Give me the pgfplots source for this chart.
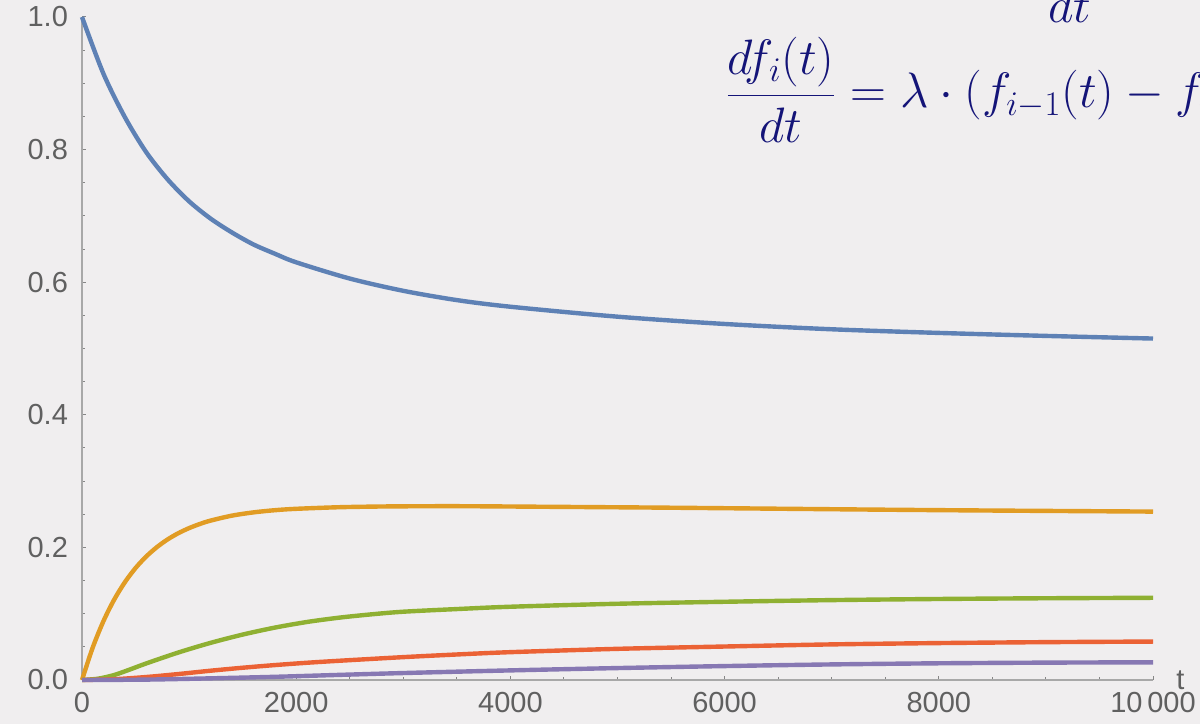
\documentclass[border=0pt]{standalone}
\usepackage{fontspec}
\setmainfont{Liberation Sans}
\usepackage{pgfplots}
\pgfplotsset{compat=1.18}
\definecolor{bgcol}{HTML}{F0EEEF}
\definecolor{axisgray}{HTML}{A8A8A8}
\definecolor{labelgray}{HTML}{606060}
\definecolor{mblue}{HTML}{5E81B5}
\definecolor{morange}{HTML}{E19C24}
\definecolor{mgreen}{HTML}{8FB032}
\definecolor{mred}{HTML}{EB6235}
\definecolor{mpurple}{HTML}{8778B3}
\definecolor{navy}{RGB}{20,20,120}
\begin{document}
\begin{tikzpicture}
\fill[bgcol] (-41pt,-22pt) rectangle (559pt,340pt);
\begin{axis}[
  at={(0pt,0pt)}, anchor=south west,
  scale only axis, width=535.5pt, height=331.5pt,
  xmin=0, xmax=10000, ymin=0, ymax=1,
  axis x line=bottom, axis y line=left,
  axis line style={-, draw=axisgray, line width=0.6pt},
  tick align=inside,
  major tick length=2.2pt, minor tick length=1.4pt,
  every tick/.style={draw=axisgray!80!black, line width=0.5pt},
  xtick={0,2000,4000,6000,8000,10000},
  xticklabels={0,2000,4000,6000,8000,10\,000},
  ytick={0,0.2,0.4,0.6,0.8,1},
  yticklabels={0.0,0.2,0.4,0.6,0.8,1.0},
  minor x tick num=3, minor y tick num=3,
  tick label style={font=\fontsize{14.5}{17}\selectfont, text=labelgray},
  yticklabel style={xshift=-3.5pt},
  xticklabel style={yshift=-2.5pt},
  xlabel={t},
  xlabel style={at={(rel axis cs:1,0)}, anchor=west, xshift=11.5pt, inner sep=0pt, font=\fontsize{14.5}{17}\selectfont, text=labelgray},
  clip=false,
  every axis plot/.append style={line width=2.2pt, smooth},
]
\addplot[mblue] coordinates {
(0,1.000) (200,0.9145) (400,0.849) (600,0.796) (800,0.755) (1000,0.722)
(1200,0.696) (1400,0.675) (1600,0.657) (1800,0.643) (2000,0.630) (2500,0.6055)
(3000,0.587) (3500,0.573) (4000,0.563) (5000,0.548) (6000,0.537) (7000,0.529)
(8000,0.5235) (9000,0.519) (10000,0.515)};
\addplot[morange] coordinates {
(0,0) (100,0.0489) (200,0.0887) (300,0.1211) (400,0.1474) (500,0.1689) (600,0.1863)
(700,0.2005) (800,0.2121) (900,0.2215) (1000,0.2291) (1100,0.2353) (1200,0.2404)
(1400,0.2479) (1600,0.2528) (1800,0.2561) (2000,0.2582) (2400,0.2606) (2800,0.2617)
(3200,0.2621) (3600,0.2621) (4400,0.2612) (5400,0.260) (6400,0.2585) (7400,0.257)
(8400,0.2557) (10000,0.254)};
\addplot[mgreen] coordinates {
(0,0) (150,0.002) (300,0.0075) (450,0.016) (600,0.025) (900,0.0415) (1200,0.056)
(1500,0.0685) (1800,0.079) (2100,0.0875) (2400,0.094) (2700,0.099) (3000,0.103)
(3500,0.107) (4000,0.1105) (5000,0.115) (6000,0.118) (7000,0.1205) (8000,0.1222)
(9000,0.1233) (10000,0.124)};
\addplot[mred] coordinates {
(0,0) (300,0.0012) (600,0.0045) (900,0.009) (1200,0.014) (1500,0.0185) (1800,0.0225)
(2100,0.026) (2400,0.029) (3000,0.0345) (3500,0.0385) (4000,0.042) (5000,0.047)
(6000,0.0505) (7000,0.0537) (8000,0.0557) (9000,0.0571) (10000,0.058)};
\addplot[mpurple] coordinates {
(0,0) (600,0.0006) (1200,0.0025) (1800,0.0048) (2400,0.0077) (3000,0.0105)
(4000,0.0145) (5000,0.018) (6000,0.021) (7000,0.0235) (8000,0.0252) (9000,0.0262)
(10000,0.0267)};
\end{axis}
\node[anchor=base west, inner sep=0pt, text=navy, font=\fontsize{25}{30}\selectfont]
  at (321.5pt,286pt) {$\displaystyle \frac{d f_i(t)}{dt} = \lambda\cdot\bigl(f_{i-1}(t) - f_i(t)\bigr)$};
\node[anchor=base, inner sep=0pt, text=navy, font=\fontsize{25}{30}\selectfont]
  at (494pt,328.5pt) {$dt$};
\pgfresetboundingbox
\useasboundingbox (-41pt,-22pt) rectangle (559pt,340pt);
\end{tikzpicture}
\end{document}
